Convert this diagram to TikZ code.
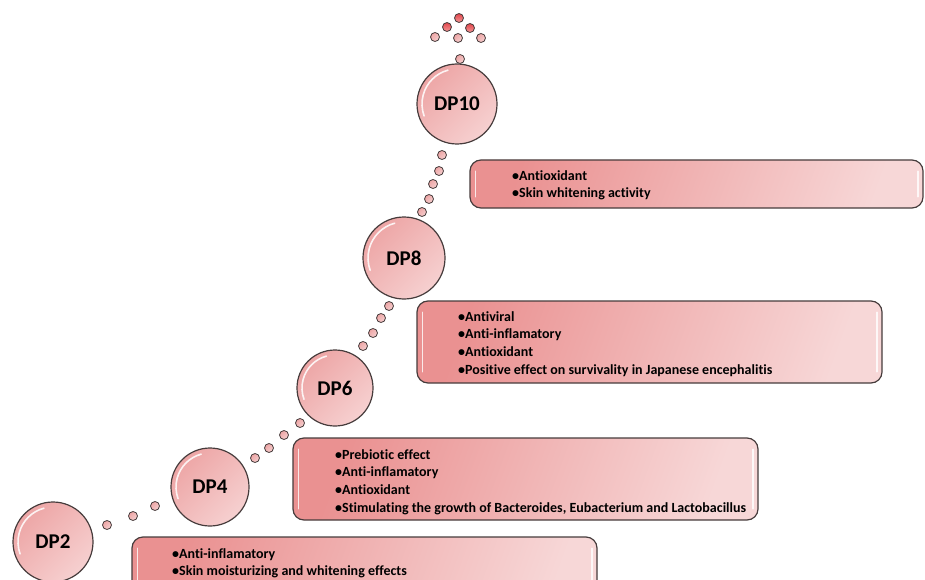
\documentclass[tikz,border=0pt]{standalone}
\usepackage{fontspec}
\setmainfont[Ligatures=NoCommon]{Carlito}
\definecolor{edge}{RGB}{70,60,60}
\definecolor{cdark}{RGB}{237,165,165}
\definecolor{clight}{RGB}{246,208,208}
\definecolor{bdark}{RGB}{234,145,145}
\definecolor{blight}{RGB}{247,215,215}
\definecolor{rdark}{RGB}{225,70,75}
\definecolor{rlight}{RGB}{245,150,150}
\begin{document}
\begin{tikzpicture}[x=1pt,y=-1pt,
  ball/.style={circle, draw=edge, line width=1.2pt, minimum size=#1, inner sep=0pt,
    top color=cdark, bottom color=clight, shading angle=45,
    font=\bfseries\fontsize{21}{24}\selectfont},
  ball/.default=80pt,
  boxnode/.style={rectangle, rounded corners=11pt, draw=edge, line width=1.2pt, inner sep=0pt,
    top color=bdark, bottom color=blight, shading angle=70},
  txt/.style={anchor=base west, align=left, inner sep=0pt,
    font=\bfseries\fontsize{14}{17.7}\selectfont},
  dotnode/.style={circle, draw=edge, line width=0.8pt, minimum size=9pt, inner sep=0pt,
    top color=cdark, bottom color=clight, shading angle=45},
  reddot/.style={dotnode, top color=rdark, bottom color=rlight},
  glare/.style={white, line width=1.6pt, opacity=0.85, line cap=round},
  shine/.style={white, line width=1.8pt, opacity=0.8, line cap=round}]
\clip (0,0) rectangle (925,580);
\useasboundingbox (0,0) rectangle (925,580);

% boxes
\node[boxnode, minimum width=453pt, minimum height=48pt] (boxD) at (696.5,184) {};
\node[boxnode, minimum width=465pt, minimum height=82pt] (boxC) at (649.5,342) {};
\node[boxnode, minimum width=465pt, minimum height=82pt] (boxB) at (525.5,479) {};
\node[boxnode, minimum width=465pt, minimum height=82pt] (boxA) at (364.5,578) {};
\foreach \b in {boxA,boxB,boxC,boxD}{
  \draw[shine] ([xshift=6pt,yshift=-12pt]\b.north west) -- ([xshift=6pt,yshift=12pt]\b.south west);
  \draw[shine] ([xshift=-6pt,yshift=-12pt]\b.north east) -- ([xshift=-6pt,yshift=12pt]\b.south east);
}

% texts (base = baseline of the last line)
\node[txt] (tD) at (512,197.7) {\textbullet Antioxidant\\ \textbullet Skin whitening activity};
\node[txt] (tC) at (458,374.1) {\textbullet Antiviral\\ \textbullet Anti-inflamatory\\ \textbullet Antioxidant\\ \textbullet Positive effect on survivality in Japanese encephalitis};
\node[txt] (tB) at (335,512.1) {\textbullet Prebiotic effect\\ \textbullet Anti-inflamatory\\ \textbullet Antioxidant\\ \textbullet Stimulating the growth of Bacteroides, Eubacterium and Lactobacillus};
\node[txt] (tA) at (172,575.7) {\textbullet Anti-inflamatory\\ \textbullet Skin moisturizing and whitening effects};

% circles
\node[ball=80pt] (dp2) at (53,542) {DP2};
\node[ball=78pt] (dp4) at (210,487) {DP4};
\node[ball=76pt] (dp6) at (335,388) {DP6};
\node[ball=82pt] (dp8) at (404,258) {DP8};
\node[ball=80pt] (dp10) at (457,104) {DP10};
\foreach \c/\r in {dp2/35,dp4/34,dp6/33,dp8/36,dp10/35}{
  \draw[glare] (\c.center) ++(105:\r pt) arc[start angle=105, end angle=200, radius=\r pt];
}

% dotted trails
\foreach \p [count=\i] in {(107,525),(133,516),(155,506),
  (255,458),(269,448),(284,435),(300,423),
  (363,346),(373,333),(381,318),(389,306),
  (422,212),(429,199),(433,184),(439,171),(442,155),
  (460,59),(435,37),(458,38),(481,38)}
  \node[dotnode] (d\i) at \p {};
\foreach \p [count=\i] in {(447,27),(470,28),(459,18)}
  \node[reddot] (r\i) at \p {};
\end{tikzpicture}
\end{document}
